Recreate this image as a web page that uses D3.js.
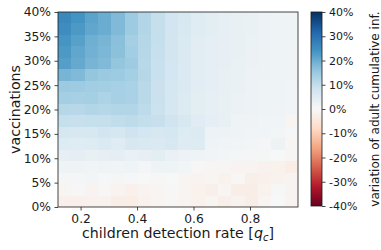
<!DOCTYPE html>
<html>
<head>
<meta charset="utf-8">
<script src="https://cdn.jsdelivr.net/npm/d3@7"></script>
<style>
  body { margin: 0; background: #fff; }
  svg { display: block; font-family: "DejaVu Sans", sans-serif; }
</style>
</head>
<body>
<div class="heat"></div>
<script>
// detection rate per column (x), vaccination level per row (y, top row first)
const detectionRates = [0.144, 0.191, 0.238, 0.285, 0.333, 0.380, 0.427, 0.474, 0.521,
                        0.569, 0.616, 0.663, 0.710, 0.758, 0.805, 0.852, 0.899, 0.946];
const vaccinationLevels = [40, 37.5, 35, 32.5, 30, 27.5, 25, 22.5, 20,
                           17.5, 15, 12.5, 10, 7.5, 5, 2.5, 0];

// variation of adult cumulative infections (%), one row per vaccination level
const variation = [
  [26.0, 24.0, 21.5, 20.0, 17.8, 14.6, 12.0, 9.5, 7.8, 6.5, 4.8, 4.2, 3.6, 3.2, 2.8, 2.4, 2.0, 1.8],
  [25.2, 23.0, 21.0, 20.0, 17.8, 14.4, 11.8, 9.5, 7.8, 6.4, 4.8, 4.2, 3.6, 3.0, 2.8, 2.4, 2.0, 1.8],
  [23.8, 22.0, 19.5, 18.6, 16.8, 13.4, 11.6, 9.4, 7.6, 6.2, 4.6, 4.0, 3.4, 3.0, 2.6, 2.4, 2.0, 1.8],
  [23.0, 21.0, 19.2, 18.2, 16.6, 14.0, 11.4, 9.2, 7.6, 6.0, 4.6, 4.0, 3.4, 3.0, 2.6, 2.2, 2.0, 1.6],
  [22.2, 20.5, 18.6, 17.8, 15.8, 14.4, 11.2, 9.0, 7.4, 6.0, 4.6, 3.8, 3.4, 2.8, 2.6, 2.2, 2.0, 1.6],
  [18.6, 17.8, 15.8, 15.0, 14.6, 13.6, 11.5, 9.0, 7.4, 5.8, 4.4, 3.8, 3.2, 2.8, 2.4, 2.2, 1.8, 1.6],
  [14.8, 14.6, 14.0, 13.8, 13.2, 13.0, 11.0, 8.8, 7.2, 5.8, 4.4, 3.8, 3.2, 2.8, 2.4, 2.0, 1.8, 1.4],
  [13.8, 13.2, 13.6, 12.6, 13.2, 13.0, 11.0, 8.8, 7.2, 5.6, 4.2, 3.6, 3.0, 2.6, 2.4, 2.0, 1.8, 1.4],
  [11.4, 11.2, 11.8, 11.4, 11.8, 12.0, 10.4, 8.6, 7.0, 5.6, 4.2, 3.6, 3.0, 2.6, 2.2, 2.0, 1.6, 1.2],
  [9.4, 9.2, 9.4, 9.5, 10.0, 10.6, 9.6, 9.2, 8.0, 6.6, 4.8, 3.8, 3.2, 2.0, 1.6, 1.4, 1.2, -0.8],
  [7.2, 6.8, 6.6, 7.8, 7.2, 8.2, 7.4, 6.8, 7.2, 5.4, 5.6, 2.4, 2.2, 1.8, 1.4, 1.2, 1.0, 0.4],
  [5.4, 5.0, 5.4, 6.0, 5.0, 6.6, 6.4, 6.0, 6.8, 5.2, 5.4, 1.8, 1.4, 1.2, 1.0, 0.8, 2.2, -1.0],
  [3.4, 3.8, 3.2, 3.4, 3.8, 2.8, 3.4, 4.2, 2.8, 2.4, 1.8, 1.2, 1.0, 0.8, 0.8, 0.6, 0.2, -0.6],
  [1.8, 1.6, 1.2, 1.8, 1.4, 2.0, 0.8, 2.0, 2.0, 1.0, -0.4, -0.8, -0.6, -1.2, -1.2, -1.6, -1.8, -3.0],
  [0.6, 0.8, 1.0, 0.4, 0.6, 0.4, 0.2, -0.4, 0.2, -0.8, -1.2, -1.0, -1.8, -0.4, -2.4, -2.0, -1.6, -1.2],
  [-0.6, -0.2, -1.2, -0.4, -1.2, -2.0, -1.2, -0.8, -0.2, -0.8, -1.8, -2.2, -0.8, -2.6, -2.6, -1.8, -0.2, -1.2],
  [-2.0, -2.0, -1.6, -1.6, -2.6, -2.8, -1.6, -0.8, -0.4, -0.8, -1.8, -1.0, -2.2, -1.4, -2.6, -0.8, 0.2, -1.2]
];

const xTicks = [0.2, 0.4, 0.6, 0.8];
const yTicks = [0, 0.05, 0.1, 0.15, 0.2, 0.25, 0.3, 0.35, 0.4];
const cbTicks = [-40, -30, -20, -10, 0, 10, 20, 30, 40];

// matplotlib RdBu
const rdbu = ["#67001f", "#b2182b", "#d6604d", "#f4a582", "#fddbc7", "#f7f7f7",
              "#d1e5f0", "#92c5de", "#4393c3", "#2166ac", "#053061"];

const width = 381, height = 250;
const plot = { left: 58, right: 298, top: 12, bottom: 207 };
const cbar = { left: 311, right: 322, top: 12, bottom: 206 };
const ink = "#1a1a1a";

const color = d3.scaleLinear()
    .domain(d3.range(11).map(i => -40 + i * 8))
    .range(rdbu)
    .interpolate(d3.interpolateRgb)
    .clamp(true);

const x = d3.scaleLinear().domain([0.12, 0.97]).range([plot.left, plot.right]);
const y = d3.scaleLinear().domain([0, 0.4]).range([plot.bottom, plot.top]);

// cells
const xCell = d3.scaleBand().domain(detectionRates).range([plot.left, plot.right]);
const yCell = d3.scaleBand().domain(vaccinationLevels).range([plot.top, plot.bottom]);

const svg = d3.select(".heat").append("svg")
    .attr("width", width)
    .attr("height", height);

const cells = [];
vaccinationLevels.forEach((v, i) => {
    detectionRates.forEach((r, j) => {
        cells.push({ v: v, r: r, value: variation[i][j] });
    });
});

svg.append("g")
    .selectAll("rect")
    .data(cells)
    .enter()
    .append("rect")
    .attr("x", d => xCell(d.r))
    .attr("y", d => yCell(d.v))
    .attr("width", xCell.bandwidth() + 0.3)
    .attr("height", yCell.bandwidth() + 0.3)
    .attr("fill", d => color(d.value))
    .attr("shape-rendering", "crispEdges");

// axes
const xAxis = svg.append("g")
    .attr("transform", `translate(0,${plot.bottom})`)
    .call(d3.axisBottom(x).tickValues(xTicks).tickFormat(d3.format(".1f"))
        .tickSize(3.5).tickPadding(3.5));

const yAxis = svg.append("g")
    .attr("transform", `translate(${plot.left},0)`)
    .call(d3.axisLeft(y).tickValues(yTicks).tickFormat(d => Math.round(d * 100) + "%")
        .tickSize(3.5).tickPadding(3.5));

[xAxis, yAxis].forEach(g => {
    g.select(".domain").remove();
    g.selectAll("line").attr("stroke", ink).attr("stroke-width", 0.8);
    g.selectAll("text")
        .attr("fill", ink)
        .style("font-size", "12.3px")
        .style("font-family", "DejaVu Sans");
});

svg.append("rect")
    .attr("x", plot.left)
    .attr("y", plot.top)
    .attr("width", plot.right - plot.left)
    .attr("height", plot.bottom - plot.top)
    .attr("fill", "none")
    .attr("stroke", ink)
    .attr("stroke-width", 0.8);

// axis labels
const xLabel = svg.append("text")
    .attr("x", (plot.left + plot.right) / 2)
    .attr("y", 238)
    .attr("text-anchor", "middle")
    .attr("fill", ink)
    .style("font-size", "14.2px");
xLabel.append("tspan").text("children detection rate [");
xLabel.append("tspan").style("font-style", "italic").text("q");
xLabel.append("tspan").style("font-style", "italic").style("font-size", "10px")
    .attr("dy", 3).text("c");
xLabel.append("tspan").attr("dy", -3).text("]");

svg.append("text")
    .attr("transform", `translate(20,${(plot.top + plot.bottom) / 2}) rotate(-90)`)
    .attr("text-anchor", "middle")
    .attr("fill", ink)
    .style("font-size", "14.2px")
    .text("vaccinations");

// colorbar
const cbScale = d3.scaleLinear().domain([-40, 40]).range([cbar.bottom, cbar.top]);

const grad = svg.append("defs").append("linearGradient")
    .attr("id", "cbgrad")
    .attr("x1", 0).attr("y1", 1).attr("x2", 0).attr("y2", 0);
grad.selectAll("stop")
    .data(rdbu)
    .enter()
    .append("stop")
    .attr("offset", (d, i) => i / 10)
    .attr("stop-color", d => d);

svg.append("rect")
    .attr("x", cbar.left)
    .attr("y", cbar.top)
    .attr("width", cbar.right - cbar.left)
    .attr("height", cbar.bottom - cbar.top)
    .attr("fill", "url(#cbgrad)")
    .attr("stroke", ink)
    .attr("stroke-width", 0.8);

const cbAxis = svg.append("g")
    .attr("transform", `translate(${cbar.right},0)`)
    .call(d3.axisRight(cbScale).tickValues(cbTicks).tickFormat(d => (d < 0 ? "-" : "") + Math.abs(d) + "%")
        .tickSize(3.5).tickPadding(3.5));
cbAxis.select(".domain").remove();
cbAxis.selectAll("line").attr("stroke", ink).attr("stroke-width", 0.8);
cbAxis.selectAll("text")
    .attr("fill", ink)
    .style("font-size", "11px")
    .style("font-family", "DejaVu Sans");

svg.append("text")
    .attr("transform", `translate(378.5,${(cbar.top + cbar.bottom) / 2}) rotate(-90)`)
    .attr("text-anchor", "middle")
    .attr("fill", ink)
    .style("font-size", "12px")
    .text("variation of adult cumulative inf.");
</script>
</body>
</html>
